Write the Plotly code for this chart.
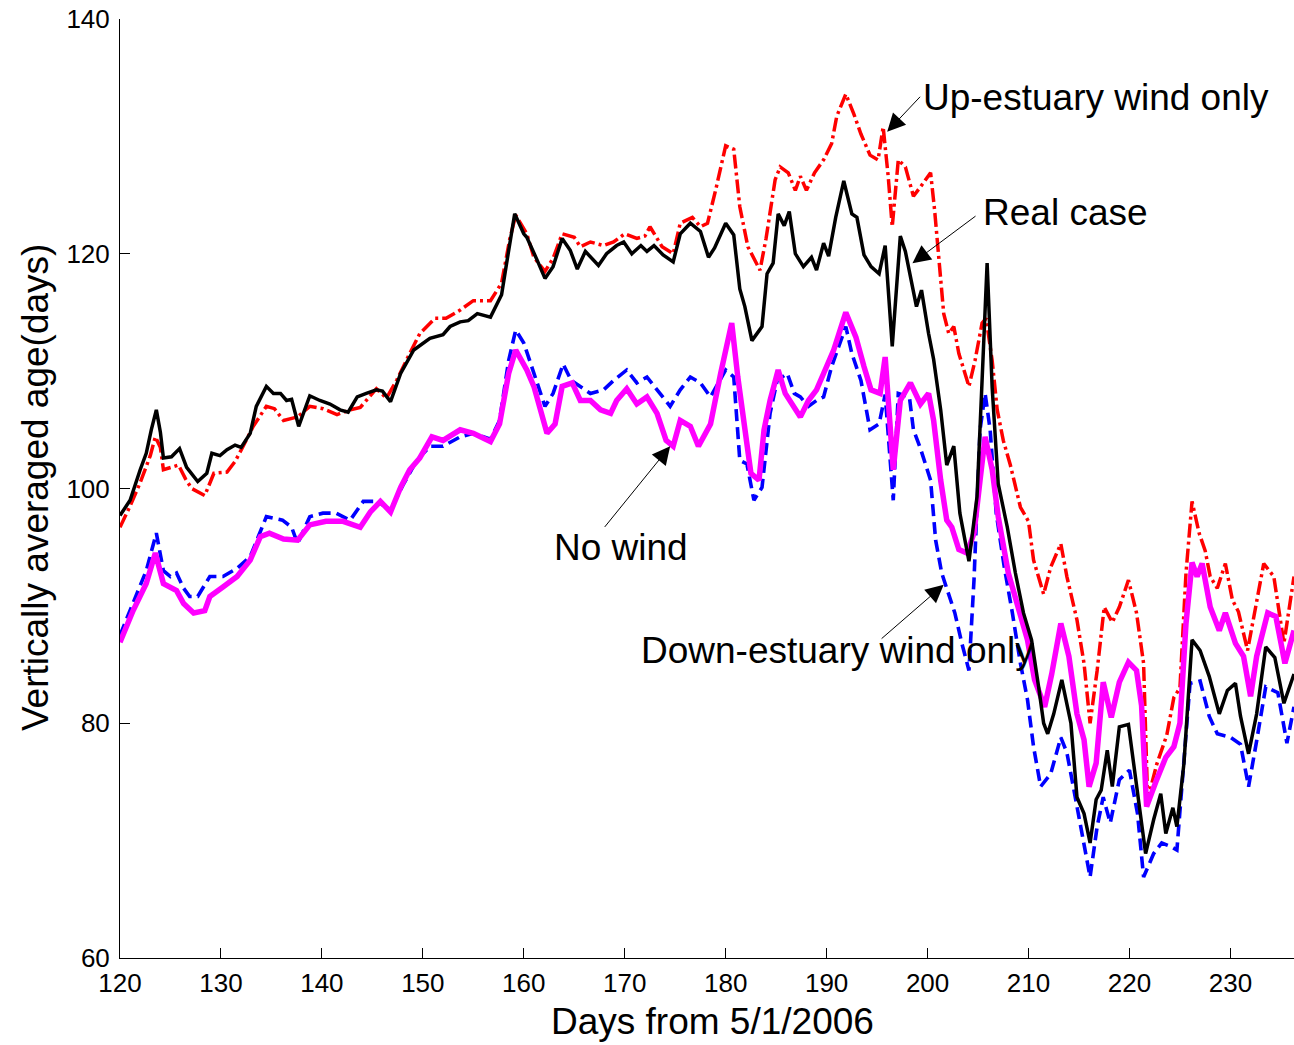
import plotly.graph_objects as go

# Vertically averaged water age (days) for four wind scenarios

# Real case (black, solid)
real_day = [120.0, 121.0, 122.0, 122.6, 123.1, 123.6, 124.0, 124.3, 125.1, 125.9, 126.6, 127.7, 128.6,
            129.1, 129.9, 130.6, 131.4, 132.0, 132.9, 133.5, 134.5, 135.2, 135.9, 136.5, 137.0, 137.7,
            138.8, 139.8, 140.8, 141.8, 142.6, 143.5, 144.4, 145.4, 146.0, 146.8, 147.8, 149.1, 150.7,
            152.0, 152.7, 153.7, 154.5, 155.4, 156.7, 157.8, 158.3, 159.1, 160.0, 160.3, 161.3, 162.1,
            162.9, 163.8, 164.6, 165.3, 166.1, 167.4, 168.2, 169.2, 169.9, 170.7, 171.6, 172.2, 172.9,
            173.8, 174.8, 175.5, 176.5, 177.5, 178.3, 178.9, 180.0, 180.8, 181.4, 181.9, 182.6, 183.6,
            184.1, 184.7, 185.2, 185.8, 186.3, 186.9, 187.7, 188.5, 189.0, 189.7, 190.2, 190.9, 191.7,
            192.5, 193.0, 193.7, 194.4, 195.2, 195.8, 196.5, 197.3, 197.8, 198.9, 199.4, 200.1, 200.6,
            201.3, 201.9, 202.6, 203.2, 204.1, 204.9, 205.4, 205.9, 206.4, 207.0, 207.9, 208.7, 209.5,
            210.3, 211.0, 211.5, 211.9, 212.5, 213.3, 214.2, 214.8, 215.5, 216.1, 216.7, 217.2, 217.8,
            218.3, 219.0, 219.9, 220.4, 221.1, 221.6, 222.4, 223.1, 223.6, 224.3, 224.7, 225.4, 226.0,
            226.2, 227.0, 227.9, 228.9, 229.7, 230.5, 231.0, 231.8, 232.6, 233.5, 234.4, 235.3, 236.3]
real_age = [97.7, 99.0, 101.6, 103.0, 105.0, 106.7, 104.8, 102.6, 102.7, 103.4, 101.8, 100.6, 101.3,
            103.0, 102.8, 103.3, 103.7, 103.5, 104.7, 107.0, 108.7, 108.1, 108.1, 107.5, 107.6, 105.3,
            107.9, 107.5, 107.2, 106.7, 106.5, 107.8, 108.1, 108.4, 108.3, 107.4, 109.8, 111.8, 112.8,
            113.1, 113.8, 114.2, 114.3, 114.9, 114.6, 116.5, 119.2, 123.4, 121.7, 121.4, 119.5, 117.9,
            118.9, 121.3, 120.3, 118.7, 120.2, 119.0, 120.0, 120.7, 121.0, 120.0, 120.7, 120.2, 120.7,
            119.9, 119.3, 121.7, 122.6, 121.9, 119.7, 120.5, 122.6, 121.6, 117.0, 115.5, 112.6, 113.8,
            118.3, 119.2, 123.4, 122.4, 123.6, 120.0, 118.9, 119.7, 118.6, 120.9, 119.8, 123.1, 126.2,
            123.4, 123.1, 119.9, 118.9, 118.3, 120.7, 112.1, 121.5, 120.2, 115.5, 116.9, 113.2, 111.0,
            106.7, 102.0, 103.6, 97.9, 93.8, 99.3, 109.2, 119.2, 108.6, 100.4, 96.7, 92.8, 89.4,
            87.1, 83.1, 80.0, 79.1, 80.8, 83.7, 80.0, 73.7, 72.3, 69.8, 73.5, 74.3, 77.7,
            74.6, 79.7, 79.9, 76.6, 72.3, 68.9, 71.8, 74.0, 70.6, 72.8, 71.2, 76.6, 84.5,
            87.1, 86.2, 84.0, 80.8, 82.8, 83.4, 80.6, 77.4, 80.8, 86.5, 85.6, 81.7, 84.2]

# Up-estuary wind only (red, dash-dot)
up_day = [120.0, 121.0, 122.0, 123.0, 123.5, 124.0, 124.3, 125.0, 125.8, 126.5, 127.1, 128.4, 129.3,
          130.6, 131.4, 132.2, 133.2, 134.5, 135.3, 136.2, 137.6, 138.8, 140.1, 141.5, 142.8, 143.8,
          145.4, 146.4, 147.4, 148.7, 149.7, 151.2, 152.3, 153.7, 155.0, 156.7, 157.8, 158.6, 159.2,
          160.3, 161.0, 162.1, 162.9, 163.8, 165.0, 165.6, 166.6, 167.9, 168.9, 170.0, 171.2, 172.0,
          172.5, 173.7, 174.8, 175.5, 176.7, 177.5, 178.2, 179.0, 180.0, 180.8, 181.4, 182.2, 183.4,
          184.0, 184.9, 185.4, 186.2, 186.9, 187.4, 188.0, 188.8, 189.7, 190.5, 191.0, 191.9, 192.7,
          193.4, 194.3, 195.1, 195.6, 196.1, 196.5, 197.1, 197.8, 198.6, 199.3, 200.3, 200.7, 201.1,
          201.6, 202.1, 202.6, 203.1, 204.1, 204.7, 205.4, 205.8, 206.4, 206.9, 207.5, 208.2, 209.2,
          210.0, 210.5, 211.5, 212.2, 213.2, 213.8, 214.8, 215.5, 216.1, 216.8, 217.5, 218.3, 219.0,
          219.9, 220.7, 221.4, 221.8, 222.7, 223.7, 224.4, 225.0, 225.6, 226.2, 226.9, 227.5, 228.0,
          228.7, 229.5, 230.2, 230.8, 231.7, 232.4, 233.3, 234.3, 235.3, 236.3]
up_age = [96.7, 98.5, 100.5, 102.8, 104.4, 103.5, 101.6, 101.8, 102.0, 100.8, 100.0, 99.4, 101.3,
          101.4, 102.3, 103.6, 105.3, 107.0, 106.8, 105.8, 106.1, 107.0, 106.8, 106.3, 106.7, 106.9,
          108.5, 107.7, 109.2, 111.5, 113.2, 114.5, 114.5, 115.2, 116.0, 116.0, 117.5, 121.2, 123.3,
          121.7, 119.7, 118.5, 119.6, 121.7, 121.4, 120.6, 121.0, 120.7, 121.0, 121.7, 121.3, 121.5,
          122.3, 120.6, 120.0, 122.6, 123.1, 122.3, 122.6, 125.4, 129.2, 128.9, 124.0, 120.6, 118.6,
          121.3, 126.3, 127.4, 126.9, 125.4, 126.6, 125.4, 126.9, 128.0, 129.4, 131.7, 133.6, 131.9,
          130.2, 128.4, 128.0, 130.8, 126.6, 122.3, 128.0, 127.4, 124.9, 125.7, 126.9, 123.7, 119.5,
          114.9, 113.2, 113.8, 111.5, 108.7, 110.9, 114.1, 114.5, 110.9, 106.7, 104.1, 102.0, 98.4,
          97.2, 93.9, 91.0, 93.3, 95.3, 92.5, 88.8, 85.1, 80.0, 84.5, 89.9, 88.6, 89.9,
          92.2, 89.4, 85.1, 73.5, 76.5, 79.0, 82.2, 83.0, 92.8, 98.9, 96.2, 94.7, 92.5,
          91.5, 93.6, 90.5, 89.5, 86.2, 89.5, 93.6, 92.5, 86.8, 92.5]

# Down-estuary wind only (blue, dashed)
down_day = [120.0, 120.8, 121.6, 122.6, 123.6, 124.3, 125.0, 125.6, 126.3, 126.9, 127.7, 128.9, 130.2,
            131.6, 132.9, 133.7, 134.5, 136.1, 137.0, 137.6, 138.8, 140.1, 141.4, 142.8, 144.1, 145.4,
            146.8, 148.1, 149.4, 150.7, 152.0, 153.7, 155.0, 156.7, 157.6, 158.5, 159.2, 160.0, 160.6,
            161.4, 162.1, 162.9, 163.9, 164.7, 165.6, 166.6, 167.9, 168.9, 170.2, 171.2, 172.2, 173.2,
            174.5, 175.5, 176.5, 177.5, 178.5, 180.0, 180.8, 181.4, 182.1, 182.8, 183.6, 184.4, 185.1,
            186.1, 186.8, 187.4, 188.2, 189.0, 189.7, 190.5, 191.4, 191.9, 192.5, 193.4, 194.3, 195.2,
            195.8, 196.6, 197.1, 198.2, 198.6, 199.3, 200.3, 200.8, 201.4, 202.1, 202.7, 203.4, 204.1,
            204.6, 205.2, 205.7, 206.2, 206.8, 207.6, 208.4, 209.2, 209.9, 210.5, 211.2, 212.2, 213.2,
            213.8, 214.5, 215.1, 216.1, 216.8, 217.4, 218.1, 219.0, 220.0, 220.8, 221.4, 222.4, 223.2,
            224.1, 224.7, 225.4, 226.0, 227.0, 227.9, 228.7, 230.0, 231.0, 231.8, 232.6, 233.5, 234.7,
            235.6, 236.3]
down_age = [87.5, 89.2, 90.8, 93.0, 96.2, 93.0, 92.5, 92.8, 91.5, 90.8, 90.8, 92.5, 92.5,
            93.2, 94.2, 96.0, 97.6, 97.3, 96.7, 95.3, 97.6, 97.9, 97.9, 97.3, 98.9, 98.9,
            98.2, 100.4, 102.4, 103.6, 103.6, 104.4, 104.7, 104.2, 105.8, 110.9, 113.5, 112.4, 110.9,
            108.7, 107.0, 108.1, 110.6, 109.2, 108.7, 108.1, 108.4, 109.2, 110.1, 109.0, 109.5, 108.4,
            107.0, 108.4, 109.5, 109.0, 107.8, 110.1, 109.5, 102.4, 102.1, 99.0, 100.1, 106.4, 109.2,
            109.8, 108.1, 107.8, 107.0, 107.5, 107.8, 110.4, 112.6, 113.8, 111.5, 109.2, 105.0, 105.5,
            108.0, 99.0, 108.1, 107.8, 105.0, 103.4, 100.7, 95.6, 92.8, 91.0, 89.4, 86.8, 84.5,
            92.2, 105.0, 108.1, 105.0, 97.9, 93.3, 89.4, 85.1, 82.0, 78.0, 74.6, 75.7, 78.8,
            77.5, 74.3, 71.5, 66.9, 71.2, 73.7, 71.5, 75.2, 76.0, 72.3, 66.9, 68.9, 69.8,
            69.5, 69.2, 76.6, 83.4, 83.6, 80.6, 79.1, 78.8, 78.2, 74.6, 78.5, 83.1, 82.6,
            78.3, 81.4]

# No wind (magenta)
calm_day = [120.0, 121.3, 122.6, 123.5, 124.3, 125.6, 126.3, 127.3, 128.4, 128.9, 130.2, 131.6, 132.9,
            133.9, 134.8, 136.2, 137.6, 138.8, 140.4, 142.1, 143.8, 144.8, 145.8, 146.8, 147.8, 148.7,
            149.7, 150.9, 152.0, 153.7, 155.0, 156.7, 157.6, 158.5, 159.2, 160.3, 161.0, 161.7, 162.3,
            163.1, 163.8, 164.8, 165.6, 166.6, 167.6, 168.6, 169.2, 170.2, 171.2, 172.2, 173.2, 174.1,
            174.8, 175.5, 176.5, 177.3, 178.5, 179.5, 180.6, 181.2, 181.8, 182.5, 183.3, 183.8, 184.4,
            185.2, 185.9, 186.7, 187.4, 188.2, 189.0, 189.7, 190.7, 191.9, 192.9, 193.7, 194.4, 195.3,
            195.8, 196.6, 197.3, 198.3, 199.3, 200.1, 200.6, 201.3, 201.9, 202.4, 203.1, 203.9, 204.6,
            205.2, 205.7, 206.4, 207.0, 208.0, 209.0, 209.9, 210.6, 211.6, 212.3, 213.2, 214.0, 214.8,
            215.5, 216.0, 216.7, 217.4, 218.2, 219.0, 219.9, 220.7, 221.2, 221.7, 222.7, 223.6, 224.4,
            225.0, 225.6, 226.2, 226.7, 227.2, 228.0, 228.9, 229.5, 230.5, 231.3, 232.0, 232.6, 233.7,
            234.5, 235.4, 236.3]
calm_age = [86.9, 89.6, 91.9, 94.5, 91.9, 91.3, 90.2, 89.4, 89.6, 90.8, 91.6, 92.5, 93.9,
            95.9, 96.2, 95.7, 95.6, 96.9, 97.2, 97.2, 96.7, 98.0, 98.9, 98.0, 100.1, 101.6,
            102.6, 104.4, 104.1, 105.0, 104.7, 104.0, 105.5, 109.8, 111.8, 110.1, 108.7, 106.7, 104.7,
            105.5, 108.7, 109.0, 107.5, 107.5, 106.7, 106.4, 107.5, 108.5, 107.2, 107.8, 106.4, 104.1,
            103.6, 105.8, 105.3, 103.6, 105.5, 109.8, 114.1, 109.5, 105.5, 101.3, 100.7, 105.0, 107.5,
            110.1, 108.1, 107.0, 106.1, 107.5, 108.4, 109.8, 111.8, 115.0, 112.9, 110.4, 108.4, 108.1,
            111.2, 101.6, 107.5, 109.0, 107.2, 108.1, 105.8, 100.7, 97.3, 96.7, 94.8, 94.5, 96.2,
            100.7, 104.4, 101.6, 97.6, 92.8, 89.9, 87.1, 83.7, 81.4, 84.2, 88.5, 85.7, 80.8,
            78.6, 74.6, 76.6, 83.5, 80.5, 83.5, 85.2, 84.5, 81.5, 72.9, 75.2, 77.1, 78.0,
            80.0, 88.5, 93.7, 92.5, 93.6, 89.9, 87.9, 89.4, 86.8, 85.7, 82.3, 85.7, 89.4,
            89.1, 85.1, 87.9]

x_ticks = [120, 130, 140, 150, 160, 170, 180, 190, 200, 210, 220, 230]
y_ticks = [60, 80, 100, 120, 140]

FONT = "Liberation Sans, Arial, sans-serif"

fig = go.Figure()
fig.add_trace(go.Scatter(x=up_day, y=up_age, mode="lines", name="Up-estuary wind only",
                         line=dict(color="#ff0000", width=3.5, dash="14px,4px,3px,4px")))
fig.add_trace(go.Scatter(x=down_day, y=down_age, mode="lines", name="Down-estuary wind only",
                         line=dict(color="#0000ff", width=3.6, dash="12px,6px")))
fig.add_trace(go.Scatter(x=calm_day, y=calm_age, mode="lines", name="No wind",
                         line=dict(color="#ff00ff", width=5.5)))
fig.add_trace(go.Scatter(x=real_day, y=real_age, mode="lines", name="Real case",
                         line=dict(color="#000000", width=3.5)))

# Labels pointing at each curve
labels = [
    dict(text="Up-estuary wind only", x=199.3, y=133.3, tail=(199.4, 133.5), head=(196.0, 130.4)),
    dict(text="Real case", x=205.3, y=123.5, tail=(204.9, 123.3), head=(198.5, 119.2)),
    dict(text="No wind", x=162.8, y=95.0, tail=(167.9, 96.6), head=(174.5, 103.6)),
    dict(text="Down-estuary wind only", x=171.4, y=86.2, tail=(195.3, 87.1), head=(201.6, 91.8)),
]
for lb in labels:
    fig.add_annotation(x=lb["x"], y=lb["y"], xref="x", yref="y", text=lb["text"],
                       showarrow=False, xanchor="left", yanchor="middle",
                       font=dict(family=FONT, size=37, color="black"))
    fig.add_annotation(x=lb["head"][0], y=lb["head"][1], ax=lb["tail"][0], ay=lb["tail"][1],
                       xref="x", yref="y", axref="x", ayref="y", text="",
                       showarrow=True, arrowhead=2, arrowsize=3.6, arrowwidth=1,
                       arrowcolor="black", standoff=0, startstandoff=0)

fig.add_annotation(x=0.505, y=-0.068, xref="paper", yref="paper", text="Days from 5/1/2006",
                   showarrow=False, xanchor="center", yanchor="middle",
                   font=dict(family=FONT, size=37, color="black"))
fig.add_annotation(x=-0.072, y=0.501, xref="paper", yref="paper",
                   text="Vertically averaged age(days)", textangle=-90,
                   showarrow=False, xanchor="center", yanchor="middle",
                   font=dict(family=FONT, size=37, color="black"))

axis_common = dict(showline=True, linecolor="black", linewidth=1, mirror=False,
                   ticks="inside", ticklen=10, tickwidth=1, tickcolor="black",
                   showgrid=False, zeroline=False,
                   tickfont=dict(family=FONT, size=26, color="black"))

fig.update_xaxes(range=[120, 236.3], tickvals=x_ticks, ticktext=[str(v) for v in x_ticks],
                 ticklabelstandoff=2, **axis_common)
fig.update_yaxes(range=[60, 140], tickvals=y_ticks, ticktext=[str(v) for v in y_ticks],
                 ticklabelstandoff=4, **axis_common)

fig.update_layout(width=1294, height=1045, margin=dict(l=120, r=0, t=19, b=87),
                  plot_bgcolor="white", paper_bgcolor="white", showlegend=False)

fig.write_html("out.html")
